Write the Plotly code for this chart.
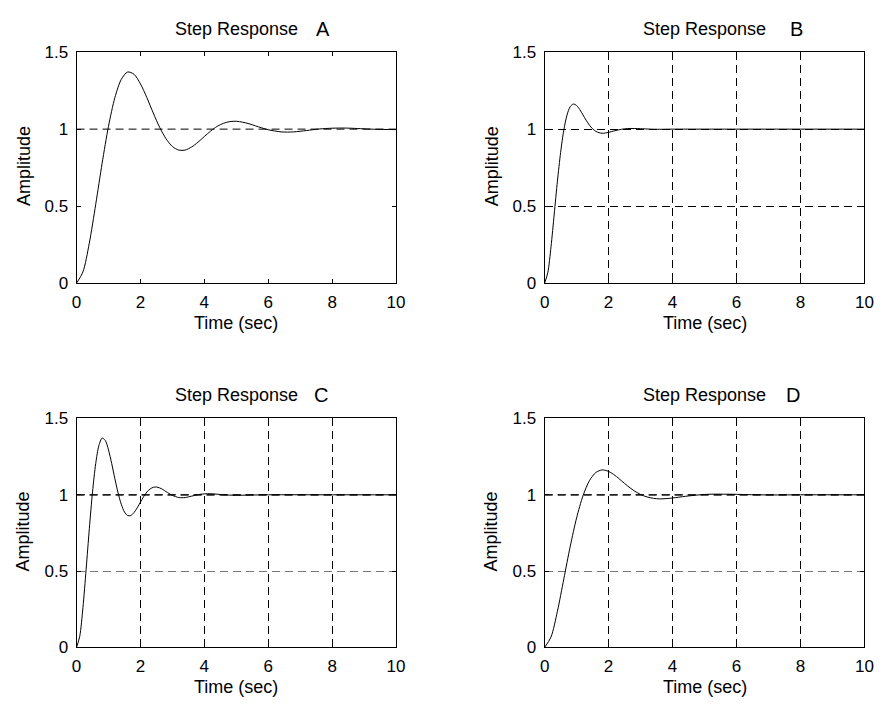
import plotly.graph_objects as go

# Step responses of four second-order systems (time in seconds)
t_a = [0, 0.2, 0.4, 0.6, 0.8, 1.0, 1.2, 1.4, 1.6, 1.8, 2.0, 2.2, 2.4, 2.6, 2.8, 3.0,
       3.2, 3.4, 3.6, 3.8, 4.0, 4.2, 4.4, 4.6, 4.8, 5.0, 5.2, 5.4, 5.6, 5.8, 6.0,
       6.4, 6.6, 6.8, 7.2, 7.6, 8.0, 8.4, 8.8, 9.2, 9.6, 10.0]
y_a = [0, 0.073, 0.261, 0.512, 0.778, 1.019, 1.205, 1.323, 1.371, 1.356, 1.294,
       1.205, 1.105, 1.012, 0.938, 0.887, 0.864, 0.864, 0.884, 0.915, 0.952, 0.988,
       1.018, 1.038, 1.049, 1.051, 1.045, 1.035, 1.021, 1.008, 0.996,
       0.982, 0.981, 0.982, 0.991, 1.001, 1.006, 1.007, 1.004, 1.000, 0.998, 0.997]

t_b = [0, 0.1, 0.2, 0.3, 0.4, 0.5, 0.6, 0.7, 0.8, 0.9, 1.0, 1.1, 1.2, 1.3, 1.4, 1.5,
       1.6, 1.7, 1.8, 1.9, 2.0, 2.2, 2.4, 2.6, 2.8, 3.0, 3.3, 3.6, 4.0, 5.0, 6.0, 8.0, 10.0]
y_b = [0, 0.069, 0.237, 0.449, 0.662, 0.849, 0.994, 1.092, 1.146, 1.163, 1.153,
       1.127, 1.092, 1.057, 1.026, 1.002, 0.986, 0.977, 0.973, 0.975, 0.979,
       0.990, 0.999, 1.004, 1.004, 1.003, 1.000, 0.999, 1.0, 1.0, 1.0, 1.0, 1.0]

t_c = [0, 0.1, 0.2, 0.3, 0.4, 0.5, 0.6, 0.7, 0.8, 0.9, 1.0, 1.1, 1.2, 1.3, 1.4, 1.5,
       1.6, 1.7, 1.8, 1.9, 2.0, 2.1, 2.2, 2.3, 2.4, 2.5, 2.6, 2.7, 2.8, 2.9, 3.0,
       3.2, 3.3, 3.4, 3.6, 3.8, 4.0, 4.2, 4.4, 4.6, 4.8, 5.0, 6.0, 8.0, 10.0]
y_c = [0, 0.073, 0.261, 0.512, 0.778, 1.019, 1.205, 1.323, 1.371, 1.356, 1.294,
       1.205, 1.105, 1.012, 0.938, 0.887, 0.864, 0.864, 0.884, 0.915, 0.952, 0.988,
       1.018, 1.038, 1.049, 1.051, 1.045, 1.035, 1.021, 1.008, 0.996,
       0.982, 0.981, 0.982, 0.991, 1.001, 1.006, 1.007, 1.004, 1.000, 0.998, 0.997,
       1.0, 1.0, 1.0]

t_d = [0, 0.2, 0.4, 0.6, 0.8, 1.0, 1.2, 1.4, 1.6, 1.8, 2.0, 2.2, 2.4, 2.6, 2.8, 3.0,
       3.2, 3.4, 3.6, 3.8, 4.0, 4.4, 4.8, 5.2, 5.6, 6.0, 6.6, 7.2, 8.0, 9.0, 10.0]
y_d = [0, 0.069, 0.237, 0.449, 0.662, 0.849, 0.994, 1.092, 1.146, 1.163, 1.153,
       1.127, 1.092, 1.057, 1.026, 1.002, 0.986, 0.977, 0.973, 0.975, 0.979,
       0.990, 0.999, 1.004, 1.004, 1.003, 1.000, 0.999, 1.0, 1.0, 1.0]

panel_letters = ["A", "B", "C", "D"]
x_ticks = [0, 2, 4, 6, 8, 10]
y_ticks = [0, 0.5, 1, 1.5]
y_tick_text = ["0", "0.5", "1", "1.5"]

W, H = 885, 711
FONT = "Liberation Sans, Arial, Helvetica, sans-serif"

# plot-area rectangles in pixels: (left, right, top, bottom)
boxes = [
    (72.7, 397.3, 44.3, 281.7),
    (548.3, 873.3, 44.3, 281.7),
    (72.7, 397.3, 420.7, 656.0),
    (548.3, 873.3, 420.7, 656.0),
]
letter_x = [323, 804, 321, 801]

series = [(t_a, y_a), (t_b, y_b), (t_c, y_c), (t_d, y_d)]

fig = go.Figure()
layout = dict(
    width=W, height=H,
    margin=dict(l=0, r=0, t=0, b=0),
    paper_bgcolor="white", plot_bgcolor="white",
    showlegend=False,
    font=dict(family=FONT, size=17, color="black"),
    annotations=[],
)

for i, ((l, r, tp, bt), (tx, ty)) in enumerate(zip(boxes, series)):
    n = "" if i == 0 else str(i + 1)
    xa, ya = "x" + n, "y" + n
    gridded = i > 0
    layout["xaxis" + n] = dict(
        domain=[l / W, r / W], anchor=ya, range=[0, 10],
        tickvals=x_ticks, ticks="inside", ticklen=4, tickcolor="black",
        showline=True, linecolor="black", linewidth=1, mirror="allticks",
        showgrid=gridded, gridcolor="black", gridwidth=1, griddash="8px,5px",
        zeroline=False, ticklabelstandoff=3,
        tickfont=dict(size=17, family=FONT),
        fixedrange=True,
    )
    layout["yaxis" + n] = dict(
        domain=[1 - bt / H, 1 - tp / H], anchor=xa, range=[0, 1.5],
        tickvals=y_ticks, ticktext=y_tick_text,
        ticks="inside", ticklen=4, tickcolor="black",
        showline=True, linecolor="black", linewidth=1, mirror="allticks",
        showgrid=gridded, gridcolor="#777777" if i >= 2 else "black",
        gridwidth=1, griddash="8px,5px",
        zeroline=False, ticklabelstandoff=4,
        tickfont=dict(size=17, family=FONT),
        fixedrange=True,
    )

    # steady-state reference at amplitude 1
    if i == 0 or i >= 2:
        fig.add_trace(go.Scatter(
            x=[0, 10], y=[1, 1], xaxis=xa, yaxis=ya, mode="lines",
            line=dict(color="black" if i == 0 else "#222222",
                      width=1 if i == 0 else 1.8, dash="8px,5px"),
            hoverinfo="skip",
        ))

    fig.add_trace(go.Scatter(
        x=tx, y=ty, xaxis=xa, yaxis=ya, mode="lines",
        line=dict(color="black", width=1, shape="spline", smoothing=0.8),
        name="Step Response " + panel_letters[i],
    ))

    cx = (l + r) / 2
    cy = (tp + bt) / 2
    ann = layout["annotations"]
    ann.append(dict(text="Step Response", x=cx / W, y=1 - (tp - 24) / H,
                    xref="paper", yref="paper", showarrow=False,
                    xanchor="center", yanchor="middle",
                    font=dict(size=18, family=FONT)))
    ann.append(dict(text=panel_letters[i], x=letter_x[i] / W, y=1 - (tp - 24) / H,
                    xref="paper", yref="paper", showarrow=False,
                    xanchor="center", yanchor="middle",
                    font=dict(size=20, family=FONT)))
    ann.append(dict(text="Time (sec)", x=cx / W, y=1 - (bt + 41) / H,
                    xref="paper", yref="paper", showarrow=False,
                    xanchor="center", yanchor="middle",
                    font=dict(size=18, family=FONT)))
    ann.append(dict(text="Amplitude", x=(l - 54) / W, y=1 - (cy - 2) / H,
                    xref="paper", yref="paper", showarrow=False, textangle=-90,
                    xanchor="center", yanchor="middle",
                    font=dict(size=18, family=FONT)))

fig.update_layout(**layout)
fig.write_html("out.html")
